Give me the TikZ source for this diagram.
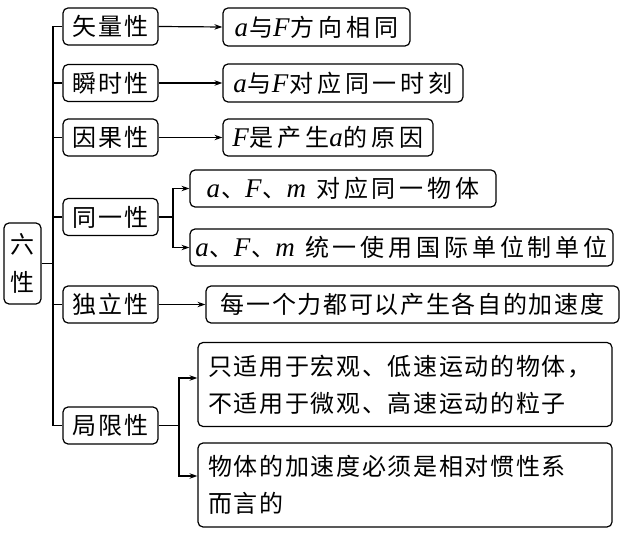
\documentclass[tikz,border=0pt]{standalone}
\usepackage{fontspec}
\setmainfont{Liberation Serif}
\newfontfamily\cjk[LetterSpace=7]{Noto Sans CJK SC}
\newfontfamily\cjkw[LetterSpace=16]{Noto Sans CJK SC}
\usetikzlibrary{arrows.meta}
\newcommand{\va}[1]{{\rmfamily\itshape\fontsize{27pt}{30pt}\selectfont #1\kern1pt}}
\begin{document}
\begin{tikzpicture}[x=1pt,y=-1pt,
  box/.style={draw, rounded corners=5pt, line width=1.2pt, inner sep=0pt, align=center,
    font=\cjk\fontsize{24pt}{30pt}\selectfont},
  widebox/.style={box, font=\cjkw\fontsize{24pt}{30pt}\selectfont},
  lvone/.style={box, minimum width=95pt, minimum height=37pt},
  twoline/.style={box, align=left, text width=394pt, minimum width=414pt, minimum height=84pt,
    font=\cjk\fontsize{24pt}{37pt}\selectfont},
  conn/.style={line width=1.2pt},
  arr/.style={conn, -{Stealth[length=8pt,width=5.5pt]}}]
\useasboundingbox (0,0) rectangle (638,537);
% root
\node[box, minimum width=37pt, minimum height=81pt, font=\cjk\fontsize{24pt}{38pt}\selectfont] (R) at (22.5,263.5) {六\\性};
% level 1
\node[lvone] (A1) at (110.5,26.5) {矢量性};
\node[lvone] (A2) at (110.5,83) {瞬时性};
\node[lvone] (A3) at (110.5,137.5) {因果性};
\node[lvone] (A4) at (110.5,217) {同一性};
\node[lvone] (A5) at (110.5,304.5) {独立性};
\node[lvone] (A6) at (110.5,425.5) {局限性};
% level 2
\node[widebox, minimum width=187pt, minimum height=38pt] (B1) at (316.5,27) {\va{a}与\va{F}方向相同};
\node[widebox, minimum width=240pt, minimum height=38pt] (B2) at (343,83) {\va{a}与\va{F}对应同一时刻};
\node[widebox, minimum width=210pt, minimum height=37pt] (B3) at (328,137.5) {\va{F}是产生\va{a}的原因};
\node[widebox, minimum width=306pt, minimum height=37pt] (B4a) at (343,188.5) {\va{a}、\va{F}、\va{m}\ 对应同一物体};
\node[widebox, minimum width=423pt, minimum height=37pt] (B4b) at (401.5,247.5) {\va{a}、\va{F}、\va{m}\ 统一使用国际单位制单位};
\node[box, minimum width=413pt, minimum height=37pt] (B5) at (412.5,304.5) {每一个力都可以产生各自的加速度};
\node[twoline] (B6a) at (405,384.5) {只适用于宏观、低速运动的物体，\\不适用于微观、高速运动的粒子};
\node[twoline] (B6b) at (405,485) {物体的加速度必须是相对惯性系\\而言的};
% spine
\coordinate (sp) at (53,0);
\draw[conn] (A1.west) -- (A1.west -| sp) -- (A6.west -| sp) -- (A6.west);
\draw[conn] (A2.west) -- (A2.west -| sp);
\draw[conn] (A3.west) -- (A3.west -| sp);
\draw[conn] (A4.west) -- (A4.west -| sp);
\draw[conn] (A5.west) -- (A5.west -| sp);
\draw[conn] (R.east) -- (R.east -| sp);
% arrows
\draw[arr] (A1.east) -- (B1.west);
\draw[arr] (A2.east) -- (B2.west);
\draw[arr] (A3.east) -- (B3.west);
\draw[arr] (A5.east) -- (B5.west);
\coordinate (f4) at (173,0);
\draw[conn] (A4.east) -- (A4.east -| f4);
\draw[arr] (A4.east -| f4) |- (B4a.west);
\draw[arr] (A4.east -| f4) |- (B4b.west);
\coordinate (f6) at (179,0);
\coordinate (e6a) at ([yshift=6.5pt]B6a.west);
\coordinate (e6b) at ([yshift=9pt]B6b.west);
\draw[conn] (A6.east) -- (A6.east -| f6);
\draw[arr] (A6.east -| f6) |- (e6a);
\draw[arr] (A6.east -| f6) |- (e6b);
\end{tikzpicture}
\end{document}
